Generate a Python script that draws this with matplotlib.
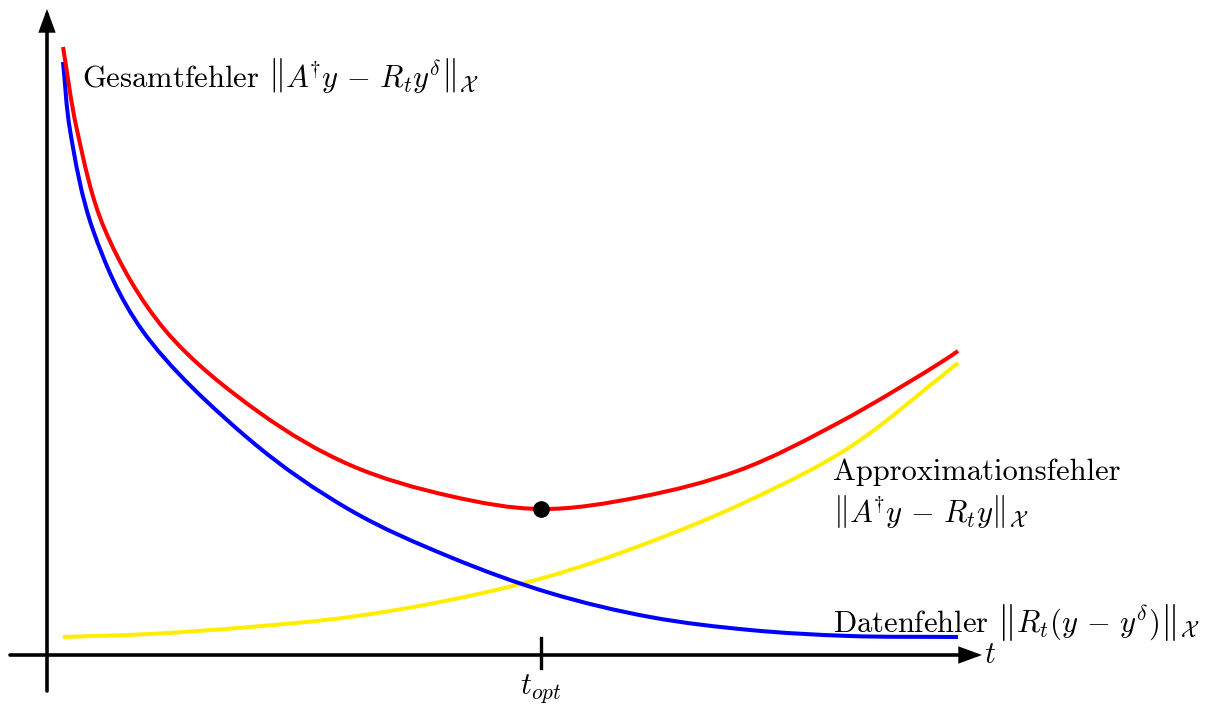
import matplotlib
matplotlib.use("Agg")
import matplotlib.pyplot as plt
import numpy as np
from matplotlib.patches import FancyArrowPatch, PathPatch
from matplotlib.path import Path

plt.rcParams["font.family"] = "serif"
plt.rcParams["font.serif"] = ["cmr10"]
plt.rcParams["mathtext.fontset"] = "cm"
plt.rcParams["axes.unicode_minus"] = False

# Datenfehler (decreasing in t)
t_daten = [0.16, 0.23, 0.46, 0.95, 2.03, 3.03, 4.03, 5.03, 6.03, 7.03, 8.03, 9.11]
daten = [5.93, 5.25, 4.25, 3.25, 2.15, 1.45, 0.98, 0.62, 0.38, 0.25, 0.19, 0.18]

# Approximationsfehler (increasing in t)
t_approx = [0.16, 1.03, 2.03, 3.03, 4.03, 5.03, 6.03, 7.03, 8.03, 9.11]
approx = [0.18, 0.21, 0.28, 0.38, 0.55, 0.79, 1.13, 1.55, 2.08, 2.92]

# Gesamtfehler
t_gesamt = [0.16, 0.30, 0.58, 1.18, 2.13, 3.03, 4.03, 4.94, 5.93, 6.93, 7.93, 8.93, 9.11]
gesamt = [6.08, 5.25, 4.25, 3.25, 2.42, 1.90, 1.59, 1.46, 1.58, 1.85, 2.33, 2.92, 3.04]

norm = r"\left\|{%s}\right\|_{\mathcal{X}}"
label_gesamt = "Gesamtfehler $" + norm % r"A^{\!\!\dagger}\!y \,-\, R_t y^\delta" + "$"
label_approx_1 = "Approximationsfehler"
label_approx_2 = "$" + norm % r"A^{\!\!\dagger}\!y \,-\, R_t y" + "$"
label_daten = "Datenfehler $" + norm % r"R_t(y \,-\, y^\delta)" + "$"


def smooth_path(x, y, alpha=0.5):
    """Centripetal Catmull-Rom curve through the points, as cubic Beziers."""
    P = np.column_stack([x, y]).astype(float)
    P = np.vstack([2 * P[0] - P[1], P, 2 * P[-1] - P[-2]])
    verts = [P[1]]
    codes = [Path.MOVETO]
    for i in range(1, len(P) - 2):
        p0, p1, p2, p3 = P[i - 1], P[i], P[i + 1], P[i + 2]
        d1 = np.linalg.norm(p1 - p0) ** alpha
        d2 = np.linalg.norm(p2 - p1) ** alpha
        d3 = np.linalg.norm(p3 - p2) ** alpha
        b1 = (d1**2 * p2 - d2**2 * p0 + (2 * d1**2 + 3 * d1 * d2 + d2**2) * p1) / (3 * d1 * (d1 + d2))
        b2 = (d3**2 * p1 - d2**2 * p3 + (2 * d3**2 + 3 * d3 * d2 + d2**2) * p2) / (3 * d3 * (d3 + d2))
        verts += [b1, b2, p2]
        codes += [Path.CURVE4] * 3
    return Path(verts, codes)


fig = plt.figure(figsize=(12.12, 7.06), dpi=100, facecolor="white")
ax = fig.add_axes([0, 0, 1, 1])
ax.set_xlim(-0.47, 11.65)
ax.set_ylim(-0.51, 6.55)
ax.axis("off")

# coordinate axes with arrow heads
for start, end in [((-0.37, 0), (9.35, 0)), ((0, -0.36), (0, 6.46))]:
    ax.add_patch(FancyArrowPatch(
        start, end, arrowstyle="-|>,head_length=0.6,head_width=0.22",
        mutation_scale=20, lw=2.6, color="black",
        shrinkA=0, shrinkB=0, joinstyle="miter", zorder=2,
    ))

lw = 2.9
curves = [
    (t_approx, approx, "#ffee00", 3),
    (t_daten, daten, "#0000ff", 4),
    (t_gesamt, gesamt, "#ff0000", 5),
]
for x, values, color, z in curves:
    ax.add_patch(PathPatch(smooth_path(x, values), fill=False, edgecolor=color,
                           lw=lw, capstyle="butt", zorder=z))

# optimal parameter at the minimum of the total error
i_opt = int(np.argmin(gesamt))
t_opt = t_gesamt[i_opt]
ax.plot([t_opt], [gesamt[i_opt]], "o", color="black", ms=11, zorder=6)
ax.plot([t_opt, t_opt], [0.17, -0.13], color="black", lw=2.4, zorder=2)

fs = 22
ax.text(0.35, 5.68, label_gesamt, fontsize=fs, va="baseline", ha="left")
ax.text(7.86, 1.75, label_approx_1, fontsize=fs, va="baseline", ha="left")
ax.text(7.86, 1.33, label_approx_2, fontsize=fs, va="baseline", ha="left")
ax.text(7.86, 0.23, label_daten, fontsize=fs, va="baseline", ha="left")
ax.text(9.37, -0.08, r"$t$", fontsize=fs, va="baseline", ha="left")
ax.text(t_opt, -0.39, r"$t_{opt}$", fontsize=fs, va="baseline", ha="center")

fig.savefig("out.png", dpi=100, facecolor="white")
